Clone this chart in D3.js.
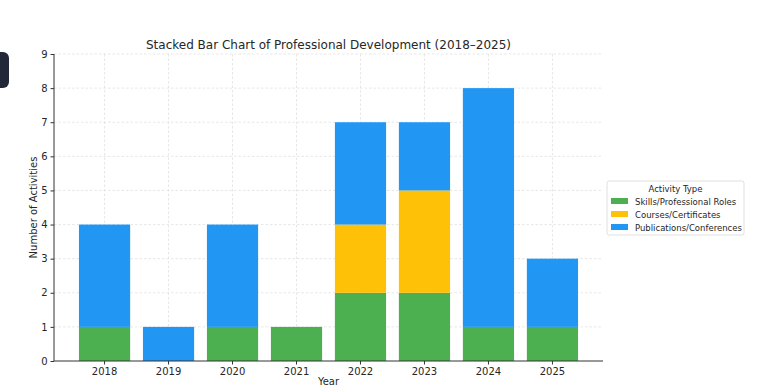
<!DOCTYPE html>
<html>
<head>
<meta charset="utf-8">
<script src="https://cdn.jsdelivr.net/npm/d3@7"></script>
<style>
  body { margin: 0; background: #fff; }
  svg { font-family: "DejaVu Sans", sans-serif; }
</style>
</head>
<body>
<script>
var years = ["2018", "2019", "2020", "2021", "2022", "2023", "2024", "2025"];
var skills = [1, 0, 1, 1, 2, 2, 1, 1];
var courses = [0, 0, 0, 0, 2, 3, 0, 0];
var pubs = [3, 1, 3, 0, 3, 2, 7, 2];
var seriesNames = ["Skills/Professional Roles", "Courses/Certificates", "Publications/Conferences"];
var seriesColors = ["#4caf50", "#ffc107", "#2196f3"];
var yTicks = [0, 1, 2, 3, 4, 5, 6, 7, 8, 9];

var width = 771, height = 388;
var plotL = 54, plotR = 603, plotT = 54, plotB = 361;

var rows = years.map((y, i) => ({year: y, s0: skills[i], s1: courses[i], s2: pubs[i]}));
var stack = d3.stack().keys(["s0", "s1", "s2"])(rows);

var svg = d3.select("body").append("svg")
            .attr("width", width)
            .attr("height", height);

// stray dark tab on the left edge
svg.append("rect")
   .attr("x", -10).attr("y", 52)
   .attr("width", 19).attr("height", 36)
   .attr("rx", 6)
   .attr("fill", "#232838");

var x = d3.scaleBand().domain(years).range([plotL, plotR]).paddingInner(0.2).paddingOuter(0.39);
var y = d3.scaleLinear().domain([0, 9]).range([plotB, plotT]);

// Grid
var grid = svg.append("g")
              .attr("stroke", "#dcdcdc")
              .attr("stroke-width", 0.7)
              .attr("stroke-dasharray", "2.5,2");
grid.selectAll(".hg").data(yTicks.slice(1)).enter()
    .append("line")
    .attr("x1", plotL).attr("x2", plotR)
    .attr("y1", d => y(d)).attr("y2", d => y(d));
grid.selectAll(".vg").data(years).enter()
    .append("line")
    .attr("x1", d => x(d) + x.bandwidth() / 2).attr("x2", d => x(d) + x.bandwidth() / 2)
    .attr("y1", plotT).attr("y2", plotB);

// Bars
svg.selectAll(".layer").data(stack).enter()
   .append("g")
   .attr("fill", (d, i) => seriesColors[i])
   .selectAll("rect")
   .data(d => d.filter(p => p[1] > p[0]))
   .enter()
   .append("rect")
   .attr("x", d => x(d.data.year))
   .attr("width", x.bandwidth())
   .attr("y", d => y(d[1]))
   .attr("height", d => y(d[0]) - y(d[1]));

// Axes
var xAxis = svg.append("g")
               .attr("transform", "translate(0," + plotB + ")")
               .call(d3.axisBottom(x).tickSize(3.5).tickPadding(3));
var yAxis = svg.append("g")
               .attr("transform", "translate(" + plotL + ",0)")
               .call(d3.axisLeft(y).tickValues(yTicks).tickSize(3.5).tickPadding(3));
[xAxis, yAxis].forEach(a => {
  a.select(".domain").attr("stroke", "#333").attr("stroke-width", 1);
  a.selectAll(".tick line").attr("stroke", "#333");
  a.selectAll(".tick text").attr("fill", "#262626").attr("font-size", 10).attr("font-family", "DejaVu Sans");
});
xAxis.select(".domain").attr("d", "M" + plotL + ",0H" + plotR);
yAxis.select(".domain").attr("d", "M0," + plotB + "V" + plotT);

// Labels
svg.append("text")
   .attr("x", (plotL + plotR) / 2).attr("y", 49)
   .attr("text-anchor", "middle")
   .attr("font-size", 12)
   .attr("fill", "#262626")
   .text("Stacked Bar Chart of Professional Development (2018\u20132025)");

svg.append("text")
   .attr("x", (plotL + plotR) / 2).attr("y", 385)
   .attr("text-anchor", "middle")
   .attr("font-size", 10)
   .attr("fill", "#262626")
   .text("Year");

svg.append("text")
   .attr("transform", "translate(37," + ((plotT + plotB) / 2) + ")rotate(-90)")
   .attr("text-anchor", "middle")
   .attr("font-size", 10)
   .attr("fill", "#262626")
   .text("Number of Activities");

// Legend
var legend = svg.append("g").attr("transform", "translate(607,181)");
legend.append("rect")
      .attr("width", 137).attr("height", 54)
      .attr("rx", 2)
      .attr("fill", "#fff")
      .attr("stroke", "#d8d8d8")
      .attr("stroke-width", 0.8);
legend.append("text")
      .attr("x", 68.5).attr("y", 11)
      .attr("text-anchor", "middle")
      .attr("font-size", 8.5)
      .attr("fill", "#262626")
      .text("Activity Type");
seriesNames.forEach((name, i) => {
  legend.append("rect")
        .attr("x", 4).attr("y", 17 + i * 13)
        .attr("width", 17).attr("height", 6)
        .attr("fill", seriesColors[i]);
  legend.append("text")
        .attr("x", 28).attr("y", 23.5 + i * 13)
        .attr("font-size", 8.5)
        .attr("fill", "#262626")
        .text(name);
});
</script>
</body>
</html>
